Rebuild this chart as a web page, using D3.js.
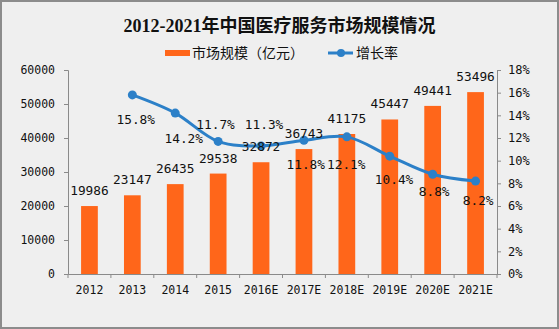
<!DOCTYPE html>
<html><head><meta charset="utf-8">
<script src="https://cdn.jsdelivr.net/npm/d3@7"></script>
<style>
html,body{margin:0;padding:0;background:#efefef;}
svg{display:block;}
</style></head>
<body>
<svg id="chart" width="559" height="329"></svg>
<script>
// ---- data ----
const years = ["2012","2013","2014","2015","2016E","2017E","2018E","2019E","2020E","2021E"];
const marketSize = [19986, 23147, 26435, 29538, 32872, 36743, 41175, 45447, 49441, 53496];
const growthRate = [null, 15.8, 14.2, 11.7, 11.3, 11.8, 12.1, 10.4, 8.8, 8.2];
const leftTicks = [0, 10000, 20000, 30000, 40000, 50000, 60000];
const rightTicks = [0, 2, 4, 6, 8, 10, 12, 14, 16, 18];
const titleText = "2012-2021年中国医疗服务市场规模情况";
const legendBar = "市场规模（亿元）";
const legendLine = "增长率";

// ---- layout (label placement relative to each growth point) ----
const growthLabelDx = [0, 3.4, 8.5, -2.6, 3, 1.8, -0.6, 4.3, 1.5, 2.6];
const growthLabelDy = [0, 28.8, 29.5, -12.1, -16.6, 29, 32.4, 28.2, 21.7, 23.9];

const W = 559, H = 329;
const M = {left: 68, right: 559 - 497, top: 70, bottom: 329 - 274};
const orange = "#FF661A", blue = "#2C80C8", axisCol = "#8a8a8a";
const numFont = "'DejaVu Sans Mono', 'Liberation Mono', monospace";
const cjkFont = "'Noto Sans CJK SC', sans-serif";

const svg = d3.select("#chart");
svg.append("rect").attr("x",1).attr("y",1).attr("width",W-2).attr("height",H-2)
  .attr("fill","#efefef").attr("stroke","#8c8c8c").attr("stroke-width",2);

const x = d3.scaleBand().domain(years).range([M.left, W - M.right]).padding(0);
const yL = d3.scaleLinear().domain([0, 60000]).range([H - M.bottom, M.top]);
const yR = d3.scaleLinear().domain([0, 18]).range([H - M.bottom, M.top]);

// title
svg.append("text").attr("x", W/2).attr("y", 32).attr("text-anchor","middle")
  .style("font-family","'Liberation Serif', 'Noto Sans CJK SC', serif")
  .style("font-size","18px").style("font-weight","bold").attr("fill","#111")
  .text(titleText);

// legend
const lg = svg.append("g");
lg.append("rect").attr("x",165).attr("y",50).attr("width",25).attr("height",6).attr("fill",orange);
lg.append("text").attr("x",192).attr("y",58).style("font-family",cjkFont).style("font-size","14px")
  .attr("fill","#111").text(legendBar);
lg.append("line").attr("x1",328).attr("x2",353).attr("y1",53).attr("y2",53)
  .attr("stroke",blue).attr("stroke-width",3);
lg.append("circle").attr("cx",341).attr("cy",53).attr("r",4).attr("fill",blue);
lg.append("text").attr("x",356).attr("y",58).style("font-family",cjkFont).style("font-size","14px")
  .attr("fill","#111").text(legendLine);

// axes
const axL = svg.append("g").attr("transform",`translate(${M.left},0)`)
  .call(d3.axisLeft(yL).tickValues(leftTicks).tickSize(4).tickPadding(9).tickFormat(d3.format("d")));
const axR = svg.append("g").attr("transform",`translate(${W - M.right},0)`)
  .call(d3.axisRight(yR).tickValues(rightTicks).tickSize(4).tickPadding(7).tickFormat(d => d + "%"));
const axB = svg.append("g").attr("transform",`translate(0,${H - M.bottom})`)
  .call(d3.axisBottom(x).tickSize(0).tickPadding(12));
// boundary ticks on category axis
const bounds = years.map(d => x(d)).concat([W - M.right]);
axB.selectAll(".bt").data(bounds).join("line").attr("class","bt")
  .attr("x1", d => d).attr("x2", d => d).attr("y1", 0).attr("y2", 4).attr("stroke", axisCol);

[axL, axR, axB].forEach(g => {
  g.selectAll("path.domain").attr("stroke", axisCol);
  g.selectAll(".tick line").attr("stroke", axisCol);
  g.selectAll("text").style("font-family", numFont).attr("fill","#111");
});
axL.selectAll("text").style("font-size","11.5px");
axR.selectAll("text").style("font-size","12px");
axB.selectAll("text").style("font-size","11.5px");

// bars
const barW = x.bandwidth() * 0.39;
const data = years.map((y, i) => ({year: y, v: marketSize[i], g: growthRate[i], i}));
svg.append("g").selectAll("rect").data(data).join("rect")
  .attr("x", d => x(d.year) + x.bandwidth()/2 - barW/2)
  .attr("y", d => yL(d.v)).attr("width", barW)
  .attr("height", d => yL(0) - yL(d.v)).attr("fill", orange);

// line
const gData = data.filter(d => d.g != null);
const line = d3.line().x(d => x(d.year) + x.bandwidth()/2).y(d => yR(d.g)).curve(d3.curveCatmullRom.alpha(0.5));
svg.append("path").datum(gData).attr("d", line).attr("fill","none")
  .attr("stroke", blue).attr("stroke-width", 3);
svg.append("g").selectAll("circle").data(gData).join("circle")
  .attr("cx", d => x(d.year) + x.bandwidth()/2).attr("cy", d => yR(d.g)).attr("r", 4.5).attr("fill", blue);

// growth labels
svg.append("g").selectAll("text").data(gData).join("text")
  .attr("x", d => x(d.year) + x.bandwidth()/2 + growthLabelDx[d.i])
  .attr("y", d => yR(d.g) + growthLabelDy[d.i])
  .attr("text-anchor","middle").style("font-family", numFont).style("font-size","12.8px").attr("fill","#111")
  .text(d => d.g.toFixed(1) + "%");

// bar value labels
svg.append("g").selectAll("text").data(data).join("text")
  .attr("x", d => x(d.year) + x.bandwidth()/2).attr("y", d => yL(d.v) - 11)
  .attr("text-anchor","middle").style("font-family", numFont).style("font-size","12.8px").attr("fill","#111")
  .text(d => d.v);
</script>
</body></html>
